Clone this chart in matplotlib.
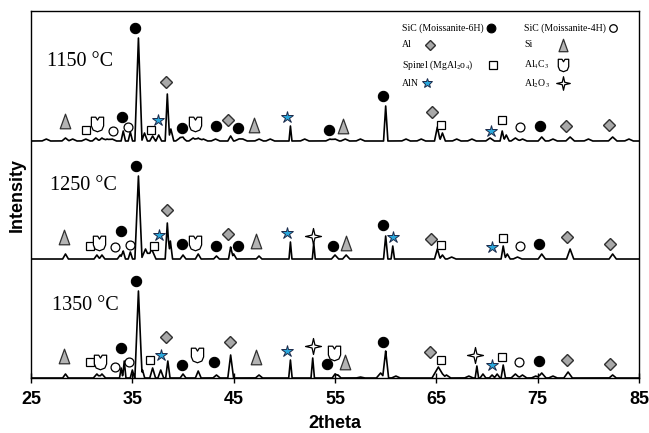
import numpy as np
import matplotlib.pyplot as plt
from matplotlib.path import Path

# ---- peak tables (2theta, height above own baseline, half base width)
pk1150_pos = [26.5, 28.4, 29.1, 30.4, 31.4, 32.0, 32.5, 33.0, 34.1, 34.8, 35.6, 36.2, 37.0, 37.6, 38.45, 38.8,
              39.7, 40.0, 41.0, 41.5, 42.0, 43.2, 44.7, 45.5, 45.9, 47.5, 48.6, 50.6, 52.0, 54.5, 55.0, 56.0,
              57.5, 60.0, 62.0, 63.5, 65.1, 65.6, 67.0, 68.5, 70.3, 71.5, 71.9, 72.8, 73.5, 75.4, 76.5, 78.2,
              80.0, 82.4, 84.0]
pk1150_hgt = [2, 3, 2, 2, 3, 3, 2, 2, 10, 9, 103, 8, 5, 6, 47, 12,
              3, 3, 3, 3, 2, 2, 5, 2, 2, 2, 2, 15, 2, 2, 2, 2,
              2, 35, 2, 2, 14, 8, 2, 2, 3, 10, 6, 3, 2, 4, 2, 4,
              2, 4, 2]
pk1150_wid = [0.3, 0.25, 0.3, 0.3, 0.25, 0.25, 0.3, 0.3, 0.15, 0.15, 0.25, 0.2, 0.2, 0.2, 0.15, 0.2,
              0.3, 0.25, 0.3, 0.25, 0.3, 0.3, 0.2, 0.3, 0.3, 0.3, 0.3, 0.1, 0.3, 0.3, 0.3, 0.3,
              0.3, 0.15, 0.3, 0.3, 0.2, 0.2, 0.3, 0.3, 0.3, 0.15, 0.2, 0.3, 0.3, 0.25, 0.3, 0.3,
              0.3, 0.3, 0.3]

pk1250_pos = [28.4, 31.5, 32.0, 33.8, 34.1, 34.8, 35.6, 36.3, 36.9, 38.45, 38.75, 40.0, 41.5, 43.3, 44.7,
              45.0, 47.5, 50.6, 52.9, 55.0, 56.1, 60.0, 60.7, 65.1, 65.6, 66.5, 71.6, 72.0, 73.0, 75.4,
              78.2, 82.4]
pk1250_hgt = [5, 4, 4, 4, 8, 7, 83, 10, 10, 36, 18, 4, 5, 3, 12,
              5, 3, 17, 16, 4, 4, 23, 13, 10, 4, 2, 13, 5, 2, 5,
              10, 5]
pk1250_wid = [0.2, 0.2, 0.2, 0.2, 0.15, 0.15, 0.25, 0.3, 0.3, 0.15, 0.15, 0.2, 0.2, 0.2, 0.15,
              0.2, 0.2, 0.1, 0.1, 0.25, 0.25, 0.15, 0.12, 0.2, 0.2, 0.3, 0.15, 0.2, 0.3, 0.25,
              0.25, 0.25]

pk1350_pos = [28.4, 31.5, 32.0, 33.9, 34.2, 35.0, 35.6, 36.0, 37.0, 37.8, 38.5, 40.0, 41.5, 43.3, 44.7,
              47.5, 50.6, 52.8, 55.0, 55.3, 57.5, 59.5, 60.0, 61.0, 65.2, 66.0, 68.2, 69.0, 69.6, 70.5,
              71.0, 71.6, 72.8, 73.5, 74.8, 75.4, 76.5, 78.0, 82.4]
pk1350_hgt = [4, 4, 4, 10, 17, 8, 87, 8, 10, 8, 17, 4, 7, 3, 23,
              3, 18, 20, 4, 3, 1, 5, 27, 2, 11, 3, 2, 12, 4, 3,
              4, 13, 4, 3, 2, 5, 2, 6, 3]
pk1350_wid = [0.2, 0.25, 0.25, 0.12, 0.12, 0.15, 0.25, 0.15, 0.2, 0.2, 0.15, 0.2, 0.2, 0.25, 0.2,
              0.25, 0.12, 0.12, 0.2, 0.2, 0.3, 0.3, 0.2, 0.3, 0.45, 0.3, 0.3, 0.12, 0.2, 0.2,
              0.2, 0.15, 0.3, 0.3, 0.3, 0.3, 0.3, 0.3, 0.25]

# ---- phase markers (phase, 2theta, height above own baseline)
mk1150_phase = ['Si', 'Spinel', 'Al4C3', 'SiC4H', 'SiC6H', 'SiC4H', 'SiC6H', 'Spinel', 'AlN', 'Al',
                'SiC6H', 'Al4C3', 'SiC6H', 'Al', 'SiC6H', 'Si', 'AlN', 'SiC6H', 'Si', 'SiC6H',
                'Al', 'Spinel', 'AlN', 'Spinel', 'SiC4H', 'SiC6H', 'Al', 'Al']
mk1150_pos = [28.36, 30.43, 31.49, 33.07, 33.98, 34.58, 35.3, 36.85, 37.51, 38.30,
              39.88, 41.19, 43.26, 44.42, 45.40, 47.04, 50.30, 54.45, 55.83, 59.78,
              64.56, 65.47, 70.41, 71.47, 73.27, 75.25, 77.81, 81.99]
mk1150_hgt = [19.8, 11.5, 17.5, 10.5, 24.2, 13.8, 113.2, 10.8, 20.8, 58.8,
              13.2, 17.2, 14.8, 21.5, 13.2, 16.5, 24.2, 11.5, 14.8, 45.5,
              28.8, 16.5, 9.8, 20.8, 13.8, 14.8, 14.8, 16.5]

mk1250_phase = ['Si', 'Spinel', 'Al4C3', 'SiC4H', 'SiC6H', 'SiC4H', 'SiC6H', 'Spinel', 'AlN', 'Al',
                'SiC6H', 'Al4C3', 'SiC6H', 'Al', 'SiC6H', 'Si', 'AlN', 'Al2O3', 'SiC6H', 'Si',
                'SiC6H', 'AlN', 'Al', 'Spinel', 'AlN', 'Spinel', 'SiC4H', 'SiC6H', 'Al', 'Al']
mk1250_pos = [28.29, 30.82, 31.74, 33.29, 33.88, 34.77, 35.34, 37.14, 37.64, 38.40,
              39.94, 41.19, 43.23, 44.42, 45.40, 47.21, 50.24, 52.87, 54.78, 56.10,
              59.78, 60.71, 64.49, 65.47, 70.48, 71.56, 73.27, 75.15, 77.94, 82.16]
mk1250_hgt = [21.6, 12.6, 16.0, 11.6, 28.3, 13.6, 92.6, 12.6, 24.3, 49.3,
              15.0, 16.0, 13.3, 25.0, 12.6, 18.3, 26.0, 23.3, 13.3, 16.0,
              33.6, 21.6, 20.3, 13.6, 12.0, 21.0, 12.6, 15.3, 22.0, 15.0]

mk1350_phase = ['Si', 'Spinel', 'Al4C3', 'SiC4H', 'SiC6H', 'SiC4H', 'SiC6H', 'Spinel', 'AlN', 'Al',
                'SiC6H', 'Al4C3', 'SiC6H', 'Al', 'Si', 'AlN', 'Al2O3', 'SiC6H', 'Al4C3', 'Si',
                'SiC6H', 'Al', 'Spinel', 'Al2O3', 'AlN', 'Spinel', 'SiC4H', 'SiC6H', 'Al', 'Al']
mk1350_pos = [28.29, 30.82, 31.81, 33.29, 33.88, 34.70, 35.37, 36.75, 37.83, 38.30,
              39.94, 41.36, 43.09, 44.64, 47.18, 50.24, 52.81, 54.25, 54.91, 56.00,
              59.78, 64.39, 65.44, 68.83, 70.48, 71.47, 73.20, 75.15, 77.94, 82.16]
mk1350_hgt = [22.5, 15.8, 15.8, 10.8, 29.8, 15.8, 97.5, 18.5, 23.5, 40.8,
              13.5, 23.5, 15.8, 36.5, 20.8, 26.8, 32.5, 14.2, 24.8, 15.8,
              35.8, 25.8, 18.5, 23.5, 13.2, 21.5, 15.8, 16.8, 18.5, 14.2]

temps = ['1150 °C', '1250 °C', '1350 °C']
offsets = [237, 119, 0]

legend_left = [('SiC (Moissanite-6H)', 'SiC6H'), ('Al', 'Al'),
               ('Spinel (MgAl$_2$o$_4$)', 'Spinel'), ('AlN', 'AlN')]
legend_right = [('SiC (Moissanite-4H)', 'SiC4H'), ('Si', 'Si'),
                ('Al$_4$C$_3$', 'Al4C3'), ('Al$_2$O$_3$', 'Al2O3')]

# ---- marker shapes
cup = Path([(-0.42, 0.5), (-0.12, 0.5), (0.0, 0.3), (0.12, 0.5), (0.42, 0.5), (0.42, -0.1),
            (0.3, -0.38), (0.0, -0.5), (-0.3, -0.38), (-0.42, -0.1), (-0.42, 0.5)],
           closed=True)
star4 = Path([(0, 1), (0.18, 0.18), (1, 0), (0.18, -0.18), (0, -1), (-0.18, -0.18), (-1, 0),
              (-0.18, 0.18), (0, 1)], closed=True)
tri = Path([(-0.36, -0.5), (0.36, -0.5), (0.0, 0.5), (-0.36, -0.5)], closed=True)

style = {
    'SiC6H': dict(marker='o', ms=7.4, mfc='black', mec='black', mew=0.8),
    'SiC4H': dict(marker='o', ms=6.4, mfc='white', mec='black', mew=0.9),
    'Al': dict(marker='D', ms=6.3, mfc='#a8a8a8', mec='#303030', mew=1.0),
    'Si': dict(marker=tri, ms=10.5, mfc='#b4b4b4', mec='#303030', mew=0.9),
    'Spinel': dict(marker='s', ms=6.2, mfc='white', mec='black', mew=0.9),
    'Al4C3': dict(marker=cup, ms=10.5, mfc='white', mec='black', mew=0.9),
    'AlN': dict(marker='*', ms=9, mfc='#2aa8dc', mec='#1c2a4a', mew=0.7),
    'Al2O3': dict(marker=star4, ms=11.5, mfc='white', mec='black', mew=0.9),
}

plt.rcParams['mathtext.fontset'] = 'stix'

fig = plt.figure(figsize=(6.49, 4.33), dpi=100)
ax = fig.add_axes([0.0478, 0.127, 0.9368, 0.8476])

grid = np.linspace(25, 85, 6001)


def build(pos, hgt, wid):
    y = np.zeros_like(grid)
    for p, h, w in zip(pos, hgt, wid):
        w = w * 1.4
        y += np.interp(grid, [p - w, p, p + w], [0, h, 0], left=0, right=0)
    return y


traces = [(pk1150_pos, pk1150_hgt, pk1150_wid),
          (pk1250_pos, pk1250_hgt, pk1250_wid),
          (pk1350_pos, pk1350_hgt, pk1350_wid)]
markers = [(mk1150_phase, mk1150_pos, mk1150_hgt),
           (mk1250_phase, mk1250_pos, mk1250_hgt),
           (mk1350_phase, mk1350_pos, mk1350_hgt)]
label_xy = [(26.58, 316), (26.88, 193), (27.04, 73)]

for (pos, hgt, wid), (ph, mpos, mhgt), off, t, (tx, ty) in zip(traces, markers, offsets, temps, label_xy):
    ax.plot(grid, build(pos, hgt, wid) + off, color='black', lw=1.2)
    for k, x, h in zip(ph, mpos, mhgt):
        ax.plot([x], [h + off], ls='none', **style[k])
    ax.text(tx, ty, t, family='Liberation Serif', fontsize=14.5, va='center', ha='left')

# legend drawn inside the plot
rows_y = [349.7, 333, 313, 294.7]
left_mk_x = [70.38, 64.39, 70.58, 64.12]
for (txt, k), y, mx in zip(legend_left, rows_y, left_mk_x):
    ax.text(61.58, y, txt, family='Liberation Serif', fontsize=7, va='center', ha='left')
    st = dict(style[k])
    st['ms'] = st['ms'] * 0.85
    ax.plot([mx], [y], ls='none', **st)
for (txt, k), y in zip(legend_right, rows_y):
    ax.text(73.67, y, txt, family='Liberation Serif', fontsize=7, va='center', ha='left')
    mx = 82.48 if k == 'SiC4H' else 77.49
    st = dict(style[k])
    st['ms'] = st['ms'] * 0.85
    ax.plot([mx], [y], ls='none', **st)

ax.set_xlim(25, 85)
ax.set_ylim(0, 367)
ax.set_xticks(range(25, 86, 10))
ax.set_yticks([])
ax.tick_params(axis='x', direction='inout', length=7, width=1.0, labelsize=13, pad=6)
for lbl in ax.get_xticklabels():
    lbl.set_fontweight('bold')
    lbl.set_family('Liberation Sans')
for s in ax.spines.values():
    s.set_linewidth(1.0)
ax.set_xlabel('2theta', fontsize=13, fontweight='bold', family='Liberation Sans', labelpad=5)
ax.set_ylabel('Intensity', fontsize=13, fontweight='bold', family='Liberation Sans', labelpad=4)

fig.savefig('out.png', dpi=100)
